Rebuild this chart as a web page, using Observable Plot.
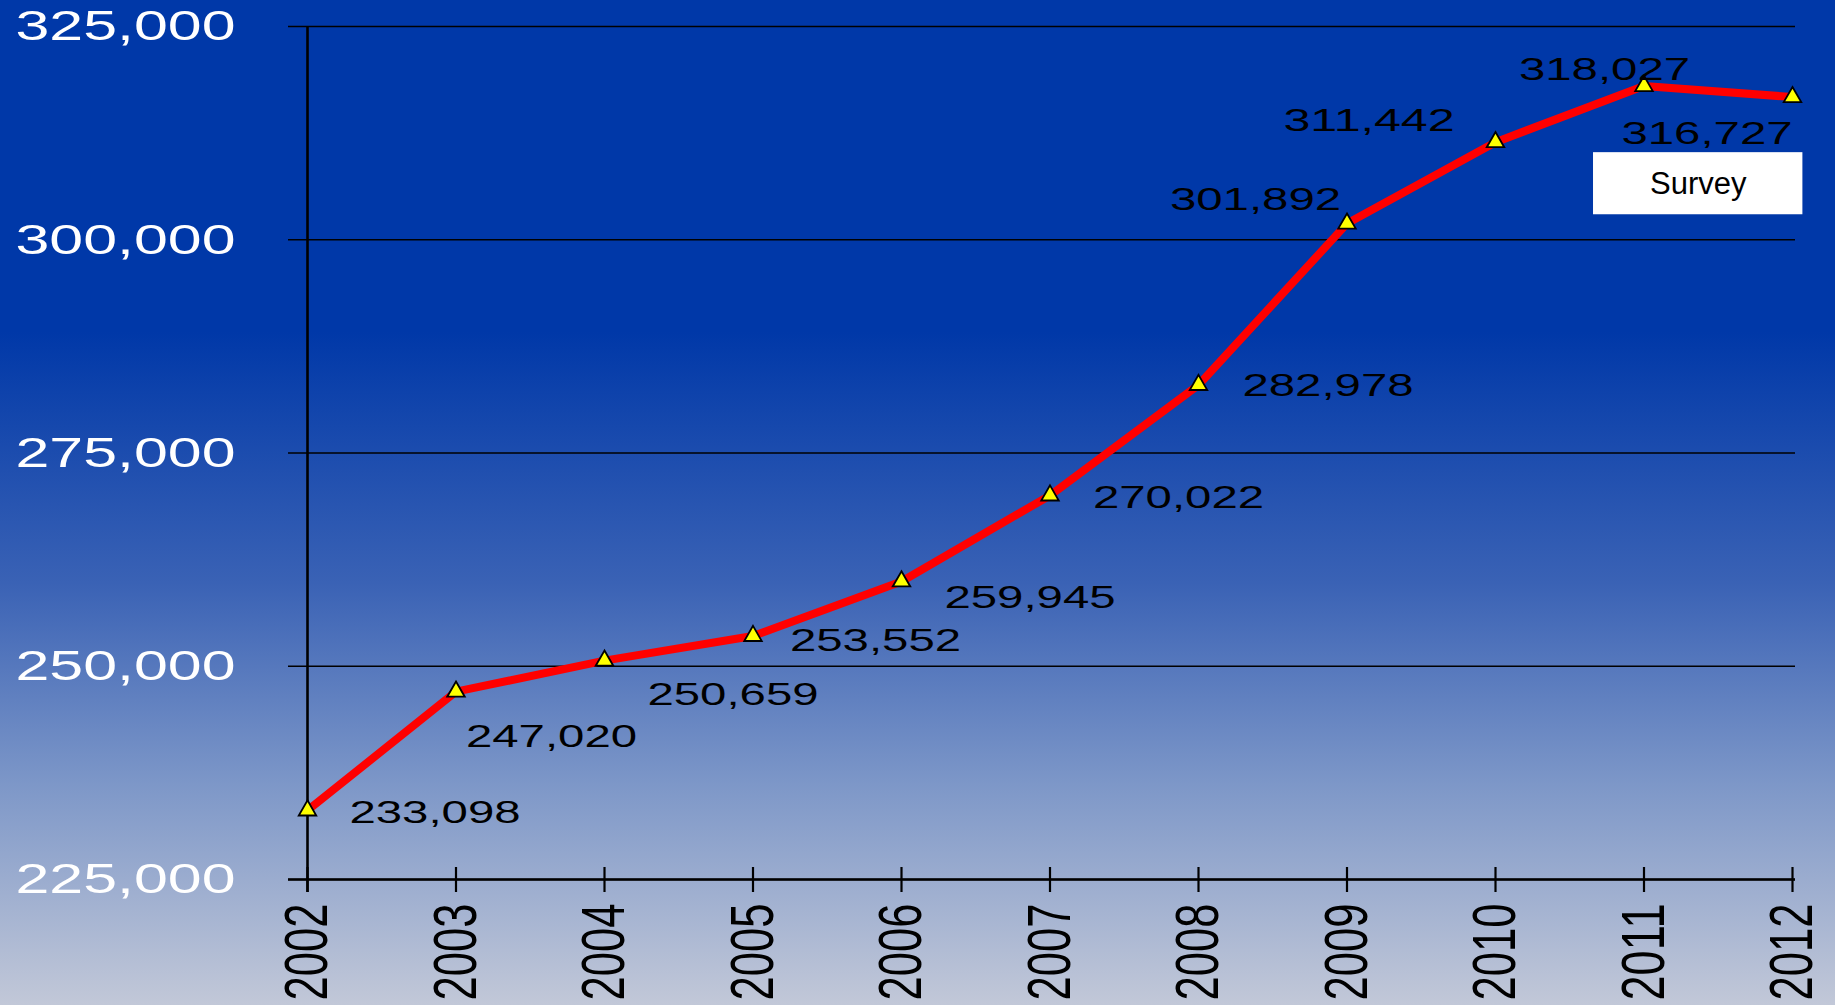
<!DOCTYPE html>
<html>
<head>
<meta charset="utf-8">
<script src="https://cdn.jsdelivr.net/npm/d3@7"></script>
<script src="https://cdn.jsdelivr.net/npm/@observablehq/plot@0.6"></script>
<style>
  html, body { margin: 0; padding: 0; width: 1835px; height: 1005px; overflow: hidden;
    background: linear-gradient(to bottom, #0038a8 0%, #0038a8 33%, #3a62b5 58%, #7d97c8 78%, #c2c8d8 100%); }
  svg { display: block; }
</style>
</head>
<body>
<div id="chart"></div>
<script>
// ---- data ----
const years = [2002, 2003, 2004, 2005, 2006, 2007, 2008, 2009, 2010, 2011, 2012];
const values = [233098, 247020, 250659, 253552, 259945, 270022, 282978, 301892, 311442, 318027, 316727];
const yTicks = [225000, 250000, 275000, 300000, 325000];
const annotationText = "Survey";

// ---- label placement (layout only, pixels relative to the point) ----
const labelDx = [42, 10, 43, 37, 43, 43, 44, -177, -212, -125, -171];
const labelDy = [2, 45, 34, 5, 16, 2, 1, -24, -21, -16, 37];

const fmt = d3.format(",");
const rows = years.map((year, i) => ({year, value: values[i]}));
const font = "'Liberation Sans', Arial, sans-serif";

const labelMarks = rows.map((d, i) => Plot.text([d], {
  x: "year", y: "value", text: r => fmt(r.value),
  textAnchor: "start", lineAnchor: "middle",
  dx: labelDx[i], dy: labelDy[i],
  fill: "black", fontSize: 32, fontFamily: font,
  className: "datalabel"
}));

const chart = Plot.plot({
  width: 1835,
  height: 1005,
  marginLeft: 307,
  marginRight: 43,
  marginTop: 26,
  marginBottom: 126,
  x: {type: "linear", domain: [2002, 2012]},
  y: {domain: [225000, 325000]},
  marks: [
    // horizontal gridlines (incl. x-axis line)
    Plot.ruleY(yTicks, {stroke: "black", strokeWidth: 1.6, insetLeft: -19, insetRight: -3}),
    Plot.ruleY([yTicks[0]], {stroke: "black", strokeWidth: 2.4, insetLeft: -19, insetRight: -3}),
    // y axis line
    Plot.ruleX([years[0]], {y1: yTicks[yTicks.length - 1], y2: yTicks[0], stroke: "black", strokeWidth: 2.6, insetBottom: -13}),
    // x ticks crossing the axis
    Plot.ruleX(years, {y1: yTicks[0], y2: yTicks[0], stroke: "black", strokeWidth: 2.2, insetTop: -12, insetBottom: -13}),
    Plot.axisY({ticks: yTicks, tickFormat: fmt, tickSize: 0, tickPadding: 72, fill: "white",
      fontSize: 43, fontFamily: font, className: "ylab", label: null}),
    Plot.axisX({ticks: years, tickFormat: "d", tickSize: 0, tickPadding: 24, tickRotate: -90,
      fill: "black", fontSize: 61, fontFamily: font, className: "xlab", label: null}),
    Plot.line(rows, {x: "year", y: "value", stroke: "#ff0000", strokeWidth: 8, strokeLinejoin: "round"}),
    Plot.dot(rows, {x: "year", y: "value", symbol: "triangle", r: 6.5, fill: "#ffff00", stroke: "black", strokeWidth: 1.8}),
    ...labelMarks,
    // annotation box
    Plot.rect([{x1: 2010.66, x2: 2012.07, y1: 302930, y2: 310210}], {x1: "x1", x2: "x2", y1: "y1", y2: "y2", fill: "white"}),
    Plot.text([{x: 2011.365, y: 306570}], {x: "x", y: "y", text: () => annotationText, fill: "black",
      fontSize: 31, fontFamily: font, lineAnchor: "middle", textAnchor: "middle"})
  ]
});

chart.style.background = "transparent";
chart.style.overflow = "visible";

function fitText(selector, len) {
  chart.querySelectorAll(selector + " text").forEach(t => {
    t.setAttribute("textLength", len);
    t.setAttribute("lengthAdjust", "spacingAndGlyphs");
  });
}
fitText(".ylab", 220);
fitText(".xlab", 97);
fitText(".datalabel", 171);

document.getElementById("chart").appendChild(chart);
</script>
</body>
</html>
